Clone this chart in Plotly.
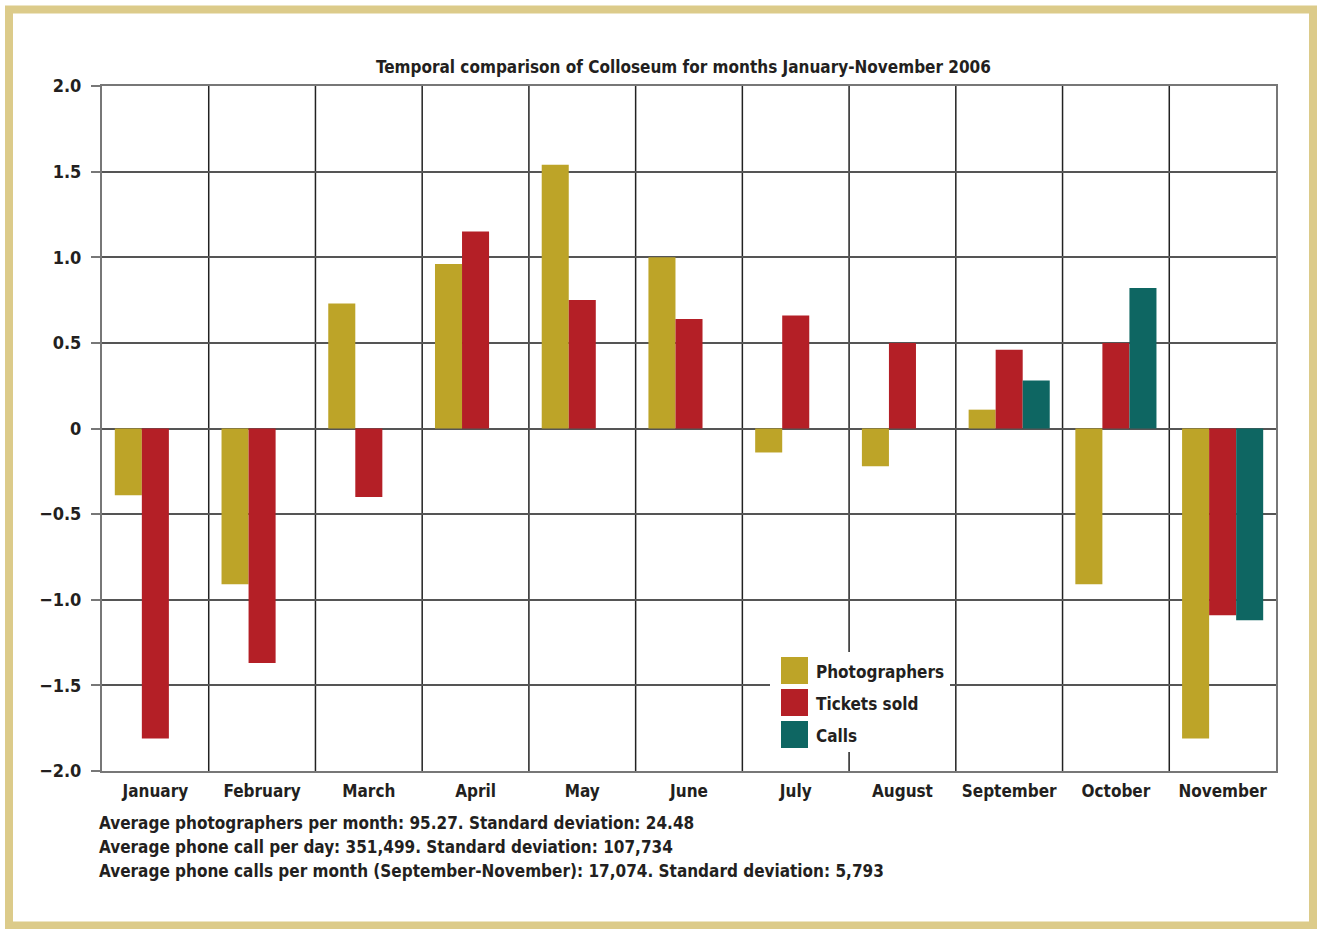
import plotly.graph_objects as go

months = ["January", "February", "March", "April", "May", "June", "July",
          "August", "September", "October", "November"]
photographers = [-0.39, -0.91, 0.73, 0.96, 1.54, 1.00, -0.14, -0.22, 0.11, -0.91, -1.81]
tickets_sold = [-1.81, -1.37, -0.40, 1.15, 0.75, 0.64, 0.66, 0.50, 0.46, 0.50, -1.09]
calls = [None, None, None, None, None, None, None, None, 0.28, 0.82, -1.12]
y_tickvals = [2.0, 1.5, 1.0, 0.5, 0, -0.5, -1.0, -1.5, -2.0]
y_ticktext = ["2.0", "1.5", "1.0", "0.5", "0", "\u22120.5", "\u22121.0", "\u22121.5", "\u22122.0"]
title_text = "Temporal comparison of Colloseum for months January-November 2006"
footnotes = [
    "Average photographers per month: 95.27. Standard deviation: 24.48",
    "Average phone call per day: 351,499. Standard deviation: 107,734",
    "Average phone calls per month (September-November): 17,074. Standard deviation: 5,793",
]
series_names = ["Photographers", "Tickets sold", "Calls"]
colors = ["#BDA428", "#B41F26", "#0E6662"]

W, H = 1320, 929
L, R, T, B = 102, 1276, 86, 771
FONT = "Liberation Sans Narrow, DejaVu Sans Condensed, Arial Narrow, sans-serif"


def px(x):
    return (x - L) / (R - L)


def py(y):
    return (B - y) / (B - T)


fig = go.Figure()
for name, vals, c in zip(series_names, [photographers, tickets_sold, calls], colors):
    fig.add_trace(go.Bar(x=months, y=vals, name=name, marker=dict(color=c, line=dict(width=0)),
                         showlegend=False))

shapes = []
# vertical category separators
for i in range(1, len(months)):
    shapes.append(dict(type="line", xref="x", yref="paper", x0=i - 0.5, x1=i - 0.5, y0=0, y1=1,
                       line=dict(color="#222222", width=1.5), layer="below"))
# outer frame
shapes.append(dict(type="rect", xref="paper", yref="paper", x0=px(9), x1=px(1313),
                   y0=py(925.5), y1=py(9.5), line=dict(color="#DCCB8A", width=8)))

annotations = [dict(text="<b>" + title_text + "</b>", xref="paper", yref="paper", x=px(683), y=py(67),
                    xanchor="center", yanchor="middle", showarrow=False,
                    font=dict(family=FONT, size=17, color="#231F20"))]
for i, t in enumerate(footnotes):
    annotations.append(dict(text="<b>" + t + "</b>", xref="paper", yref="paper", x=px(97),
                            y=py(823 + 24 * i), xanchor="left", yanchor="middle", showarrow=False,
                            font=dict(family=FONT, size=17, color="#231F20")))

# legend (drawn manually)
leg_x0, leg_y0 = 781, 657
shapes.append(dict(type="rect", xref="paper", yref="paper", x0=px(770), x1=px(950),
                   y0=py(752), y1=py(652), fillcolor="white", line=dict(width=0), layer="above"))
for i, (name, c) in enumerate(zip(series_names, colors)):
    y0 = leg_y0 + 32 * i
    shapes.append(dict(type="rect", xref="paper", yref="paper", x0=px(leg_x0), x1=px(leg_x0 + 27),
                       y0=py(y0 + 27), y1=py(y0), fillcolor=c, line=dict(width=0), layer="above"))
    annotations.append(dict(text="<b>" + name + "</b>", xref="paper", yref="paper", x=px(814),
                            y=py(y0 + 15), xanchor="left", yanchor="middle", showarrow=False,
                            font=dict(family=FONT, size=17, color="#231F20")))

fig.update_layout(
    width=W, height=H,
    margin=dict(l=L, r=W - R, t=T, b=H - B),
    paper_bgcolor="white", plot_bgcolor="white",
    barmode="group", bargap=0.24, bargroupgap=0,
    shapes=shapes, annotations=annotations,
    font=dict(family=FONT, color="#231F20"),
    showlegend=False,
)
fig.update_xaxes(showgrid=False, showline=True, linecolor="#777777", linewidth=2, mirror=True,
                 ticks="", tickfont=dict(family=FONT, size=17, color="#231F20"),
                 ticklabelstandoff=4)
fig.update_yaxes(range=[-2, 2], tickvals=y_tickvals, ticktext=["<b>" + t + "</b>" for t in y_ticktext],
                 showgrid=True, gridcolor="#555555", gridwidth=1.5, zeroline=False,
                 showline=True, linecolor="#777777", linewidth=2, mirror=True,
                 ticks="outside", ticklen=9, tickcolor="#777777", tickwidth=2,
                 ticklabelstandoff=6,
                 tickfont=dict(family=FONT, size=18, color="#231F20"))
fig.update_xaxes(tickvals=months, ticktext=["<b>" + m + "</b>" for m in months])

fig.write_html("out.html", config={"displayModeBar": False},
               post_script="document.body.style.margin='0';document.body.style.overflow='hidden';")
